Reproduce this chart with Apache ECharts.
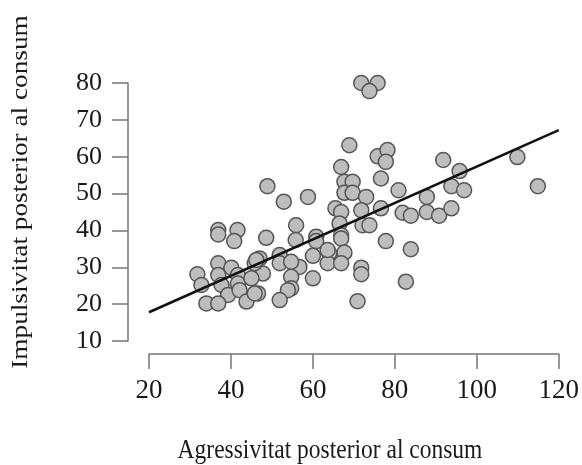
<!DOCTYPE html>
<html>
<head>
<meta charset="utf-8">
<script src="https://cdn.jsdelivr.net/npm/echarts@6/dist/echarts.min.js"></script>
<style>
  html, body { margin: 0; padding: 0; background: #fff; }
  #chart { width: 582px; height: 465px; }
</style>
</head>
<body>
<div id="chart"></div>
<script>
// dades llegides del gràfic
var agressivitat = [
  71.8, 75.8, 73.8, 68.9, 75.8, 78.2, 77.8, 66.9, 76.6, 67.7,
  69.7, 67.7, 69.7, 73.0, 65.5, 66.9, 71.8, 76.6, 80.9, 72.1,
  73.8, 66.5, 66.9, 66.9, 77.8, 64.0, 67.7, 63.6, 66.9, 71.8,
  71.8, 70.9, 83.9, 82.7, 81.9, 83.9, 87.8, 90.8, 93.8, 87.8,
  93.8, 96.9, 95.8, 91.8, 109.9, 114.9, 48.9, 52.9, 58.8, 55.9,
  55.8, 48.6, 60.8, 60.8, 63.6, 60.0, 51.9, 51.9, 47.0, 47.8,
  45.8, 56.7, 54.7, 60.0, 54.7, 53.9, 46.6, 51.9, 54.7, 36.9,
  36.9, 41.6, 40.8, 36.9, 40.1, 31.8, 32.8, 36.9, 37.7, 41.7,
  41.7, 45.0, 46.2, 39.3, 42.1, 43.8, 34.0, 36.9, 45.8
];
var impulsivitat = [
  80.0, 80.0, 77.8, 63.1, 60.1, 61.8, 58.6, 57.2, 54.1, 53.2,
  53.2, 50.2, 50.2, 49.1, 46.0, 45.0, 45.5, 46.0, 50.9, 41.4,
  41.4, 41.9, 38.7, 37.8, 37.1, 33.8, 34.0, 31.1, 31.1, 29.9,
  28.1, 20.8, 34.9, 26.1, 44.8, 44.0, 45.0, 44.0, 46.0, 49.1,
  52.0, 50.9, 56.1, 59.1, 59.9, 52.0, 52.0, 47.8, 49.1, 41.4,
  37.4, 38.0, 38.3, 37.1, 34.7, 33.1, 33.3, 31.1, 32.4, 28.3,
  31.1, 30.1, 27.4, 27.0, 24.3, 23.8, 22.9, 21.1, 31.5, 40.1,
  38.9, 40.1, 37.1, 31.1, 29.9, 28.1, 25.2, 27.9, 25.2, 27.9,
  25.6, 27.0, 32.0, 22.5, 23.8, 20.7, 20.2, 20.2, 22.9
];
// recta de regressió (extrems)
var rectaX = [20, 120];
var rectaY = [17.8, 67.2];

var punts = agressivitat.map(function (x, i) { return [x, impulsivitat[i]]; });
var recta = rectaX.map(function (x, i) { return [x, rectaY[i]]; });

var chart = echarts.init(document.getElementById('chart'));
var font = "'Liberation Serif', 'Times New Roman', serif";

option = {
  animation: false,
  backgroundColor: '#fff',
  grid: { left: 149, right: 22, top: 83, bottom: 124 },
  xAxis: {
    type: 'value',
    min: 20, max: 120, interval: 20,
    offset: 13,
    axisLine: { show: true, lineStyle: { color: '#777', width: 1.5 } },
    axisTick: { show: true, length: 15, lineStyle: { color: '#777', width: 1.5 } },
    axisLabel: { margin: 23, fontFamily: font, fontSize: 27, color: '#1a1a1a' },
    splitLine: { show: false }
  },
  yAxis: {
    type: 'value',
    min: 10, max: 80, interval: 10,
    offset: 21,
    axisLine: { show: true, lineStyle: { color: '#777', width: 1.5 } },
    axisTick: { show: true, length: 16, lineStyle: { color: '#777', width: 1.5 } },
    axisLabel: { margin: 26, fontFamily: font, fontSize: 26, color: '#1a1a1a' },
    splitLine: { show: false }
  },
  graphic: [
    {
      // títol eix X
      type: 'text', x: 330, y: 437, scaleY: 1.15,
      style: { text: 'Agressivitat posterior al consum', fontFamily: font, fontSize: 23.5, fill: '#1a1a1a',
               align: 'center', verticalAlign: 'top' }
    },
    {
      // títol eix Y
      type: 'text', x: 9, y: 192, rotation: Math.PI / 2, scaleX: 1.16,
      style: { text: 'Impulsivitat posterior al consum', fontFamily: font, fontSize: 23.5, fill: '#1a1a1a',
               align: 'center', verticalAlign: 'top' }
    }
  ],
  series: [
    {
      type: 'scatter',
      data: punts,
      symbolSize: 15,
      itemStyle: { color: '#bdbdbd', borderColor: '#555', borderWidth: 1.5, opacity: 1 },
      z: 2
    },
    {
      type: 'line',
      data: recta,
      symbol: 'none',
      lineStyle: { color: '#111', width: 2.5 },
      z: 3
    }
  ]
};
chart.setOption(option);
</script>
</body>
</html>
